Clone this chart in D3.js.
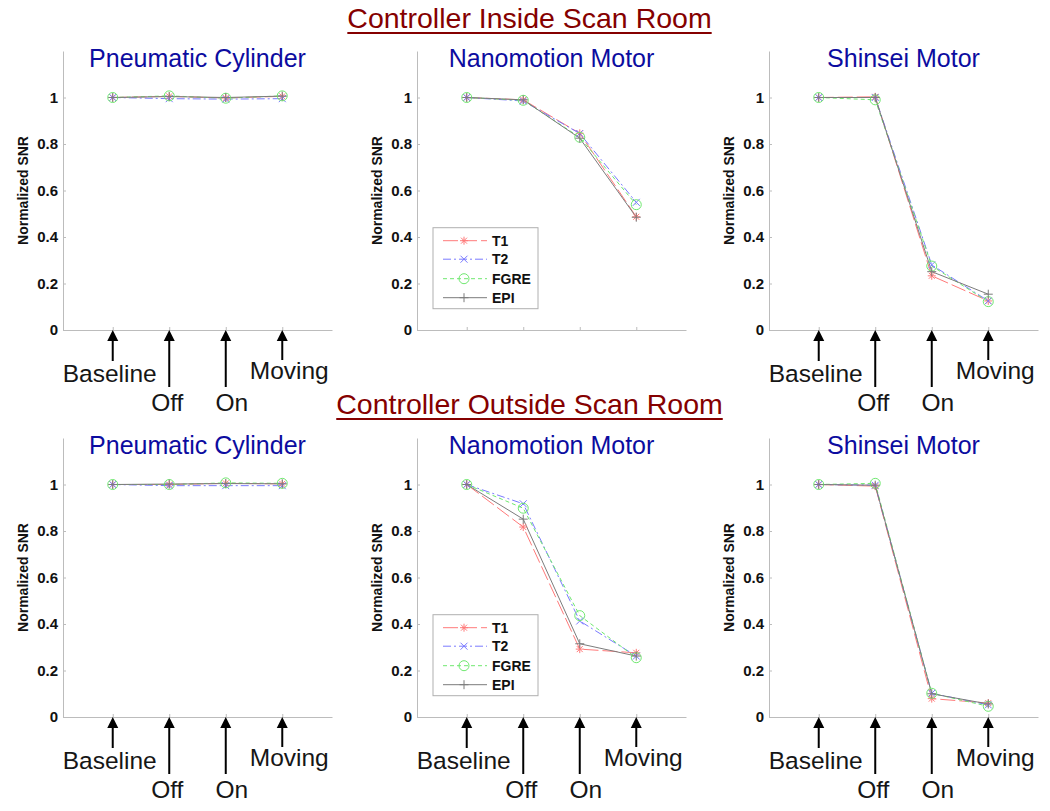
<!DOCTYPE html>
<html>
<head>
<meta charset="utf-8">
<script src="https://cdn.jsdelivr.net/npm/d3@7"></script>
<style>
  html, body { margin: 0; padding: 0; background: #fff; }
  svg { display: block; font-family: Arial, "Liberation Sans", sans-serif; }
</style>
</head>
<body>
<svg id="chart" width="1050" height="811"></svg>
<script>
// ---------------- DATA ----------------
const rowTitles = ["Controller Inside Scan Room", "Controller Outside Scan Room"];
const panelTitles = ["Pneumatic Cylinder", "Nanomotion Motor", "Shinsei Motor"];
const conditions = ["Baseline", "Off", "On", "Moving"];
const seriesNames = ["T1", "T2", "FGRE", "EPI"];
const yTickValues = [0, 0.2, 0.4, 0.6, 0.8, 1];

// each panel: rows in order T1, T2, FGRE, EPI ; columns Baseline, Off, On, Moving
const insidePneumatic = [
  [1.000, 1.005, 0.998, 1.005],
  [1.000, 0.995, 0.993, 0.995],
  [1.000, 1.007, 0.997, 1.007],
  [1.000, 1.004, 1.000, 1.006]
];
const insideNanomotion = [
  [1.000, 0.990, 0.846, 0.487],
  [1.000, 0.985, 0.845, 0.549],
  [1.000, 0.988, 0.829, 0.539],
  [1.000, 0.990, 0.825, 0.485]
];
const insideShinsei = [
  [1.000, 1.003, 0.233, 0.125],
  [1.000, 1.000, 0.280, 0.125],
  [1.000, 0.990, 0.275, 0.122],
  [1.000, 1.000, 0.251, 0.154]
];
const outsidePneumatic = [
  [1.000, 1.000, 1.005, 1.003],
  [1.000, 0.995, 0.995, 0.995],
  [1.000, 1.000, 1.007, 1.005],
  [1.000, 1.002, 1.004, 1.003]
];
const outsideNanomotion = [
  [1.000, 0.817, 0.292, 0.276],
  [1.000, 0.917, 0.413, 0.262],
  [1.000, 0.898, 0.436, 0.255],
  [1.000, 0.851, 0.315, 0.262]
];
const outsideShinsei = [
  [1.000, 0.993, 0.079, 0.060],
  [1.000, 0.997, 0.102, 0.052],
  [1.000, 1.005, 0.102, 0.046],
  [1.000, 0.997, 0.100, 0.056]
];

const panelData = [
  [insidePneumatic, insideNanomotion, insideShinsei],
  [outsidePneumatic, outsideNanomotion, outsideShinsei]
];

// ---------------- STYLE / LAYOUT ----------------
const seriesStyle = {
  T1:   { color: "#ff7a7a", dash: "15,4",    marker: "asterisk" },
  T2:   { color: "#7a7aff", dash: "8,3,2,3", marker: "x" },
  FGRE: { color: "#6fe86f", dash: "4,3",     marker: "circle" },
  EPI:  { color: "#7c7c7c", dash: null,      marker: "plus" }
};
const colLefts = [63, 417, 769];
const axisWidth = 269;
const rowZeroY = [330, 717];
const unitPx = 232.5;
const axisColor = "#bcbcbc";

// arrows (offset from x axis)
const arrowLineEnd = [31, 57, 57, 30];
const arrowLabelBase = [52, 81, 81, 49];
const arrowLabelDx = [-3, -2, 6, 7];

const svg = d3.select("#chart");

function drawMarker(g, type, x, y, color) {
  const m = g.append("g").attr("transform", `translate(${x},${y})`)
    .attr("stroke", color).attr("fill", "none").attr("stroke-width", 1);
  if (type === "asterisk") {
    const r = 4;
    m.append("line").attr("x1", -r).attr("x2", r).attr("y1", 0).attr("y2", 0);
    m.append("line").attr("x1", 0).attr("x2", 0).attr("y1", -r).attr("y2", r);
    m.append("line").attr("x1", -3).attr("x2", 3).attr("y1", -3).attr("y2", 3);
    m.append("line").attr("x1", -3).attr("x2", 3).attr("y1", 3).attr("y2", -3);
  } else if (type === "x") {
    const r = 3.5;
    m.append("line").attr("x1", -r).attr("x2", r).attr("y1", -r).attr("y2", r);
    m.append("line").attr("x1", -r).attr("x2", r).attr("y1", r).attr("y2", -r);
  } else if (type === "circle") {
    m.append("circle").attr("r", 5);
  } else if (type === "plus") {
    const r = 4.5;
    m.append("line").attr("x1", -r).attr("x2", r).attr("y1", 0).attr("y2", 0);
    m.append("line").attr("x1", 0).attr("x2", 0).attr("y1", -r).attr("y2", r);
  }
}

// ---------------- ROW TITLES ----------------
const rowTitleY = [28, 414];
rowTitles.forEach((t, i) => {
  const txt = svg.append("text")
    .attr("x", 529.5).attr("y", rowTitleY[i])
    .attr("text-anchor", "middle")
    .attr("font-size", 28.5)
    .attr("fill", "#850000")
    .text(t);
  const bb = txt.node().getBBox();
  svg.append("line")
    .attr("x1", bb.x).attr("x2", bb.x + bb.width)
    .attr("y1", rowTitleY[i] + 5).attr("y2", rowTitleY[i] + 5)
    .attr("stroke", "#850000").attr("stroke-width", 2);
});

// ---------------- PANELS ----------------
panelData.forEach((rowPanels, r) => {
  rowPanels.forEach((values, c) => {
    const left = colLefts[c];
    const y0 = rowZeroY[r];
    const x = d3.scaleLinear().domain([0.12, 4.88]).range([left, left + axisWidth]);
    const y = d3.scaleLinear().domain([0, 1.2]).range([y0, y0 - 1.2 * unitPx]);
    const g = svg.append("g");

    // y axis
    const yAxis = g.append("g").attr("transform", `translate(${left},0)`)
      .call(d3.axisLeft(y).tickValues(yTickValues).tickSize(-3).tickSizeOuter(0).tickPadding(5)
        .tickFormat(d => String(+d.toFixed(1))));
    // x axis
    const xAxis = g.append("g").attr("transform", `translate(0,${y0})`)
      .call(d3.axisBottom(x).tickValues([1, 2, 3, 4]).tickSize(-3).tickSizeOuter(0).tickFormat(""));
    [yAxis, xAxis].forEach(a => {
      a.select(".domain").attr("stroke", axisColor);
      a.selectAll(".tick line").attr("stroke", axisColor);
    });
    yAxis.selectAll(".tick text")
      .attr("font-size", 15).attr("font-weight", "bold").attr("fill", "#111")
      .attr("font-family", "Arial, 'Liberation Sans', sans-serif");

    // y label
    g.append("text")
      .attr("transform", `translate(${left - 40},${y(0.6)}) rotate(-90)`)
      .attr("text-anchor", "middle").attr("dy", "0.35em")
      .attr("font-size", 14).attr("font-weight", "bold").attr("fill", "#111")
      .text("Normalized SNR");

    // panel title
    g.append("text")
      .attr("x", left + axisWidth / 2).attr("y", y(1.2) + 16)
      .attr("text-anchor", "middle")
      .attr("font-size", 25).attr("fill", "#0c0ca0")
      .text(panelTitles[c]);

    // series lines
    const line = d3.line().x((d, i) => x(i + 1)).y(d => y(d));
    seriesNames.forEach((name, s) => {
      const st = seriesStyle[name];
      g.append("path").datum(values[s])
        .attr("d", line)
        .attr("fill", "none").attr("stroke", st.color).attr("stroke-width", 1)
        .attr("stroke-dasharray", st.dash);
    });
    seriesNames.forEach((name, s) => {
      const st = seriesStyle[name];
      values[s].forEach((v, i) => drawMarker(g, st.marker, x(i + 1), y(v), st.color));
    });

    // legend in Nanomotion panels
    if (c === 1) {
      const lx = left + 16, ly = y(0.44), lw = 105, lh = 81;
      const lg = g.append("g");
      lg.append("rect").attr("x", lx).attr("y", ly).attr("width", lw).attr("height", lh)
        .attr("fill", "#fff").attr("stroke", "#b0b0b0").attr("stroke-width", 1);
      const rowOffsets = [13, 31.5, 51, 70];
      seriesNames.forEach((name, s) => {
        const st = seriesStyle[name];
        const ry = ly + rowOffsets[s];
        lg.append("line").attr("x1", lx + 10).attr("x2", lx + 54).attr("y1", ry).attr("y2", ry)
          .attr("stroke", st.color).attr("stroke-width", 1).attr("stroke-dasharray", st.dash);
        drawMarker(lg, st.marker, lx + 31, ry, st.color);
        lg.append("text").attr("x", lx + 59).attr("y", ry).attr("dy", "0.36em")
          .attr("font-size", 14).attr("font-weight", "bold").attr("fill", "#111")
          .text(name);
      });
    }

    // arrows with condition labels
    if (!(r === 0 && c === 1)) {
      conditions.forEach((cond, i) => {
        const ax = x(i + 1);
        g.append("line").attr("x1", ax).attr("x2", ax)
          .attr("y1", y0 + 8).attr("y2", y0 + arrowLineEnd[i])
          .attr("stroke", "#000").attr("stroke-width", 2);
        g.append("path")
          .attr("d", `M${ax},${y0} L${ax - 5.5},${y0 + 11} L${ax + 5.5},${y0 + 11} Z`)
          .attr("fill", "#000");
        g.append("text")
          .attr("x", ax + arrowLabelDx[i]).attr("y", y0 + arrowLabelBase[i])
          .attr("text-anchor", "middle")
          .attr("font-size", 24.5).attr("fill", "#161616")
          .text(cond);
      });
    }
  });
});
</script>
</body>
</html>
